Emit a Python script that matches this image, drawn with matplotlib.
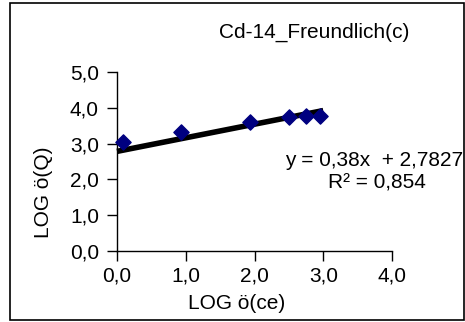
import matplotlib
matplotlib.use("Agg")
import matplotlib.pyplot as plt
from matplotlib.patches import Rectangle
import numpy as np

plt.rcParams["font.family"] = ["Liberation Sans", "DejaVu Sans"]

# LOG ce vs LOG Q measurements
log_ce = [0.09, 0.93, 1.93, 2.50, 2.75, 2.95]
log_q = [3.05, 3.33, 3.61, 3.75, 3.77, 3.77]

# Fitted linear trend
slope = 0.38
intercept = 2.7827
r_squared = 0.854
trend_x = [0.0, 3.0]

x_ticks = [0.0, 1.0, 2.0, 3.0, 4.0]
y_ticks = [0.0, 1.0, 2.0, 3.0, 4.0, 5.0]

FS = 15


def comma(v, digits=1):
    return f"{v:.{digits}f}".replace(".", ",")


fig = plt.figure(figsize=(4.65, 3.22), dpi=100)
fig.patches.append(Rectangle((10 / 465, 2 / 322), 454 / 465, 317 / 322,
                             transform=fig.transFigure, fill=False,
                             edgecolor="black", linewidth=1.2))

ax = fig.add_axes([117 / 465, 71 / 322, 275 / 465, 179 / 322])
ax.set_xlim(0, 4)
ax.set_ylim(0, 5)
for side in ("top", "right"):
    ax.spines[side].set_visible(False)
for side in ("left", "bottom"):
    ax.spines[side].set_color("black")
    ax.spines[side].set_linewidth(1.0)

ax.set_xticks(x_ticks)
ax.set_xticklabels([comma(v) for v in x_ticks])
ax.set_yticks(y_ticks)
ax.set_yticklabels([comma(v) for v in y_ticks])
ax.tick_params(direction="out", length=7, width=1.0, labelsize=FS)
ax.tick_params(axis="y", pad=6)
ax.tick_params(axis="x", pad=4)

tx = np.array(trend_x)
ax.plot(tx, slope * tx + intercept, color="black", linewidth=4,
        solid_capstyle="butt", zorder=2, clip_on=False)
ax.scatter(log_ce, log_q, marker="D", s=60, color="#000080", zorder=3,
           clip_on=False)

ax.set_xlabel("LOG ö(ce)", fontsize=FS)
ax.xaxis.label.set_va("center")
ax.xaxis.set_label_coords(0.436, -0.296)
ax.set_ylabel("LOG ö(Q)", fontsize=FS)
ax.yaxis.label.set_va("center")
ax.yaxis.set_label_coords(-0.269, 0.33)

fig.text(314 / 465, 1 - 32 / 322, "Cd-14_Freundlich(c)", fontsize=FS,
         ha="center", va="center")
fig.text(374 / 465, 1 - 160 / 322,
         f"y = {comma(slope, 2)}x  + {comma(intercept, 4)}",
         fontsize=FS, ha="center", va="center")
fig.text(377 / 465, 1 - 183 / 322, f"R² = {comma(r_squared, 3)}",
         fontsize=FS, ha="center", va="center")

fig.savefig("out.png", dpi=100)
